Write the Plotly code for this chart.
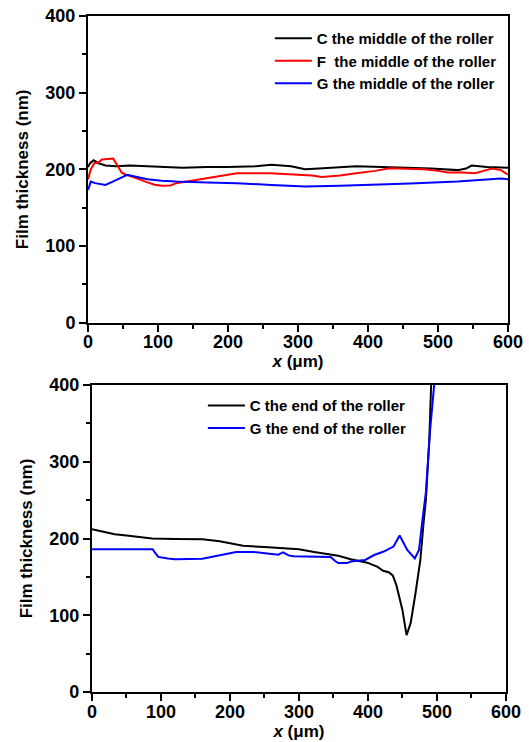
import plotly.graph_objects as go

# ---------------- data ----------------
# Top panel: middle of the roller
top_c_x = [0, 3, 8, 15, 25, 40, 60, 80, 100, 135, 170, 200, 240, 262, 290, 310, 330, 360, 383, 420, 456, 490, 528, 540, 548, 570, 600]
top_c_y = [203, 208, 212, 208, 205, 204, 205, 204, 203, 202, 203, 203, 204, 206, 204, 200, 201, 203, 204, 203, 202, 201, 199, 201, 205, 203, 202]

top_f_x = [0, 4, 9, 15, 20, 30, 36, 42, 48, 54, 65, 82, 95, 106, 118, 126, 145, 164, 190, 213, 260, 300, 320, 334, 360, 383, 410, 431, 460, 480, 500, 514, 535, 553, 565, 577, 590, 600]
top_f_y = [187, 200, 208, 209, 213, 214, 214, 205, 196, 193, 190, 184, 180, 178.5, 179, 182, 185, 188, 192, 195, 195, 193, 192, 190, 192, 195, 198, 201.5, 201, 200, 198, 196, 196, 195, 198, 201, 199, 193]

top_g_x = [0, 4, 10, 25, 40, 56, 70, 85, 105, 126, 170, 213, 262, 310, 360, 407, 460, 528, 560, 577, 590, 600]
top_g_y = [173, 184, 182, 179.6, 186, 192.8, 190, 187, 185, 184, 183, 182, 179.6, 177.5, 178.5, 179.6, 181.5, 184, 186, 188, 188, 187]

# Bottom panel: end of the roller
bot_c_x = [0, 15, 33, 50, 87, 120, 160, 185, 200, 219, 250, 283, 300, 322, 340, 357, 375, 391, 399, 414, 422, 430, 436, 441, 445, 450, 456, 462, 469, 476, 481, 484, 489, 492]
bot_c_y = [212, 209, 205.5, 204, 200, 199.5, 199, 196.5, 194, 190.5, 189, 187, 186, 182.5, 180, 177.5, 173, 170, 168.5, 163, 158, 156, 152, 140, 124, 107, 74, 90, 129, 172, 224, 250, 330, 410]

bot_g_x = [0, 88, 91, 96, 110, 120, 160, 175, 200, 209, 233, 257, 270, 277, 285, 292, 320, 346, 352, 357, 370, 375, 396, 409, 423, 437, 446, 457, 468, 474, 479, 484, 490, 497]
bot_g_y = [186, 186, 182, 176, 174, 173, 173.5, 176, 180, 182.5, 182.5, 180, 179, 182, 178, 177, 176.5, 176, 171, 168, 168, 170, 172, 178.5, 183, 189.5, 204, 185, 174, 185, 224, 260, 340, 410]

x_ticks = [0, 100, 200, 300, 400, 500, 600]
y_ticks = [0, 100, 200, 300, 400]

names_top = ["C the middle of the roller", "F  the middle of the roller", "G the middle of the roller"]
names_bot = ["C the end of the roller", "G the end of the roller"]

FONT = "Liberation Sans, Arial, sans-serif"
BLACK = "#000000"
RED = "#ff0000"
BLUE = "#0000ff"

fig = go.Figure()

fig.add_trace(go.Scatter(x=top_c_x, y=top_c_y, mode="lines", name=names_top[0],
                         line=dict(color=BLACK, width=2), xaxis="x", yaxis="y", legend="legend"))
fig.add_trace(go.Scatter(x=top_f_x, y=top_f_y, mode="lines", name=names_top[1],
                         line=dict(color=RED, width=2), xaxis="x", yaxis="y", legend="legend"))
fig.add_trace(go.Scatter(x=top_g_x, y=top_g_y, mode="lines", name=names_top[2],
                         line=dict(color=BLUE, width=2), xaxis="x", yaxis="y", legend="legend"))
fig.add_trace(go.Scatter(x=bot_c_x, y=bot_c_y, mode="lines", name=names_bot[0],
                         line=dict(color=BLACK, width=2), xaxis="x2", yaxis="y2", legend="legend2"))
fig.add_trace(go.Scatter(x=bot_g_x, y=bot_g_y, mode="lines", name=names_bot[1],
                         line=dict(color=BLUE, width=2), xaxis="x2", yaxis="y2", legend="legend2"))

tickfont = dict(family=FONT, size=18, color=BLACK, weight="bold")
titlefont = dict(family=FONT, size=17, color=BLACK, weight="bold")

def xaxis(domain, anchor):
    return dict(domain=domain, anchor=anchor, range=[0, 600], tickvals=x_ticks,
                ticktext=[str(v) for v in x_ticks],
                showgrid=False, zeroline=False, showline=True, linecolor=BLACK, linewidth=2,
                mirror=True, ticks="outside", ticklen=7, tickwidth=2, tickcolor=BLACK,
                minor=dict(dtick=50, ticks="outside", ticklen=4, tickwidth=2, tickcolor=BLACK, showgrid=False),
                tickfont=tickfont, ticklabelstandoff=-5, ticklabeloverflow="allow",
                title=dict(text="<i>x</i> (μm)", font=titlefont, standoff=4),
                automargin=False)

def yaxis(domain, anchor):
    return dict(domain=domain, anchor=anchor, range=[0, 400], tickvals=y_ticks,
                ticktext=[str(v) for v in y_ticks],
                showgrid=False, zeroline=False, showline=True, linecolor=BLACK, linewidth=2,
                mirror=True, ticks="outside", ticklen=7, tickwidth=2, tickcolor=BLACK,
                minor=dict(dtick=50, ticks="outside", ticklen=4, tickwidth=2, tickcolor=BLACK, showgrid=False),
                tickfont=tickfont, ticklabeloverflow="allow",
                title=dict(text="Film thickness (nm)", font=titlefont, standoff=12),
                automargin=False)

legfont = dict(family=FONT, size=15, color=BLACK, weight="bold")

fig.update_layout(
    width=529, height=742,
    paper_bgcolor="white", plot_bgcolor="white",
    margin=dict(l=88, r=21, t=16, b=50),
    xaxis=xaxis([0.0, 1.0], "y"),
    yaxis=yaxis([0.5463, 1.0], "x"),
    xaxis2=xaxis([0.0095, 0.995], "y2"),
    yaxis2=yaxis([0.0, 0.4541], "x2"),
    legend=dict(x=0.433, y=0.991, xanchor="left", yanchor="top", bgcolor="rgba(0,0,0,0)",
                font=legfont, itemwidth=37, tracegroupgap=0),
    legend2=dict(x=0.2735, y=0.448, xanchor="left", yanchor="top", bgcolor="rgba(0,0,0,0)",
                 font=legfont, itemwidth=37, tracegroupgap=0),
    showlegend=True,
)

# remove the default page margin so the figure fills the 529x742 window exactly
fig.write_html("out.html", config={"displayModeBar": False},
               post_script="document.body.style.margin='0';document.body.style.overflow='hidden';")
